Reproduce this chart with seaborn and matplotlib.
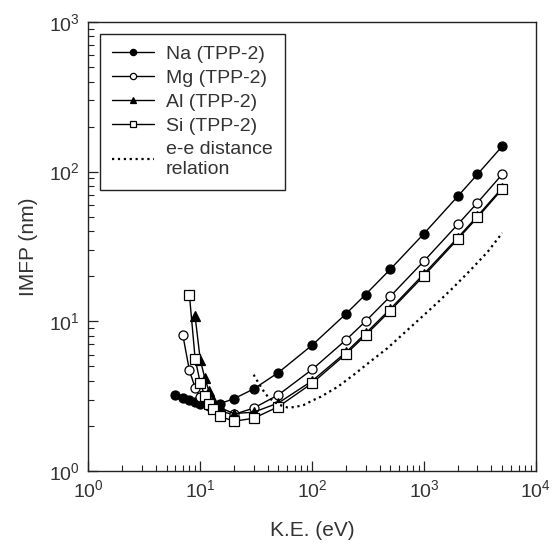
import matplotlib
matplotlib.use("Agg")
import matplotlib.pyplot as plt
import seaborn as sns

sns.set_style("ticks")
plt.rcParams['font.family'] = ['Liberation Sans', 'DejaVu Sans']
plt.rcParams['mathtext.default'] = 'regular'

# kinetic energies (eV) and IMFP (nm)
na_ke = [6, 7, 8, 9, 10, 12, 15, 20, 30, 50, 100, 200, 300, 500, 1000, 2000, 3000, 5000]
na_imfp = [3.2, 3.08, 2.97, 2.88, 2.82, 2.78, 2.82, 3.04, 3.53, 4.55, 6.93, 11.2, 15.1, 22.3, 38.6, 68.4, 96, 148]

mg_ke = [7, 8, 9, 10, 12, 15, 20, 30, 50, 100, 200, 300, 500, 1000, 2000, 3000, 5000]
mg_imfp = [8.05, 4.7, 3.6, 3.1, 2.73, 2.5, 2.39, 2.63, 3.23, 4.77, 7.5, 10.0, 14.7, 25.3, 44.4, 62, 96]

al_ke = [9, 10, 11, 12, 13, 15, 20, 30, 50, 100, 200, 300, 500, 1000, 2000, 3000, 5000]
al_imfp = [10.8, 5.55, 4.15, 3.4, 3.0, 2.65, 2.42, 2.47, 2.85, 4.0, 6.2, 8.3, 12.1, 20.8, 36.2, 50.5, 78]

si_ke = [8, 9, 10, 11, 12, 13, 15, 20, 30, 50, 100, 200, 300, 500, 1000, 2000, 3000, 5000]
si_imfp = [15.1, 5.64, 3.88, 3.16, 2.8, 2.58, 2.32, 2.15, 2.25, 2.69, 3.86, 6.04, 8.06, 11.8, 20.2, 35.4, 49.4, 76.5]

ee_ke = [30, 32, 36, 40, 45, 50, 60, 70, 85, 100, 120, 170, 235, 330, 470, 660, 930, 1300, 1850, 2600, 3700, 5000]
ee_imfp = [4.4, 4.05, 3.5, 3.15, 2.92, 2.78, 2.66, 2.67, 2.77, 2.95, 3.14, 3.66, 4.39, 5.38, 6.61, 8.32, 10.5, 13.2, 17.0, 22.0, 29.1, 39.0]

fig = plt.figure(figsize=(5.52, 5.43), dpi=100)
ax = fig.add_axes([0.16, 0.1326, 0.811, 0.827])

common = dict(color='k', linewidth=1, markersize=6.5, markeredgecolor='k',
              markeredgewidth=0.9, ax=ax, estimator=None, sort=False)
sns.lineplot(x=na_ke, y=na_imfp, marker='o', markerfacecolor='k', label='Na (TPP-2)', **common)
sns.lineplot(x=mg_ke, y=mg_imfp, marker='o', markerfacecolor='white', label='Mg (TPP-2)', **common)
sns.lineplot(x=al_ke, y=al_imfp, marker='^', markerfacecolor='k', label='Al (TPP-2)', **common)
sns.lineplot(x=si_ke, y=si_imfp, marker='s', markerfacecolor='white', label='Si (TPP-2)', **common)
sns.lineplot(x=ee_ke, y=ee_imfp, color='k', linestyle=':', linewidth=1.6, ax=ax,
             estimator=None, sort=False, label='e-e distance\nrelation')

ax.set_xscale('log')
ax.set_yscale('log')
ax.set_xlim(1, 1e4)
ax.set_ylim(1, 1e3)
ax.set_xlabel('K.E. (eV)', fontsize=15, color='#333333', labelpad=14)
ax.set_ylabel('IMFP (nm)', fontsize=15, color='#333333', labelpad=8)
ax.tick_params(which='both', direction='in', top=False, right=False,
               labelsize=14, labelcolor='#333333', color='#222222')
ax.tick_params(which='major', length=7, width=0.9, pad=6)
ax.tick_params(which='minor', length=4, width=0.8)
for s in ax.spines.values():
    s.set_color('#222222')
    s.set_linewidth(1.0)

leg = ax.legend(loc='upper left', fontsize=14, frameon=True, fancybox=False,
                edgecolor='#222222', framealpha=1, handlelength=2.2,
                borderaxespad=0.6, borderpad=0.6, labelspacing=0.33,
                handletextpad=0.6)
leg.get_frame().set_linewidth(1.0)
for t in leg.get_texts():
    t.set_color('#333333')
for h in leg.legend_handles:
    h.set_markersize(4.5)

fig.savefig('out.png', dpi=100)
